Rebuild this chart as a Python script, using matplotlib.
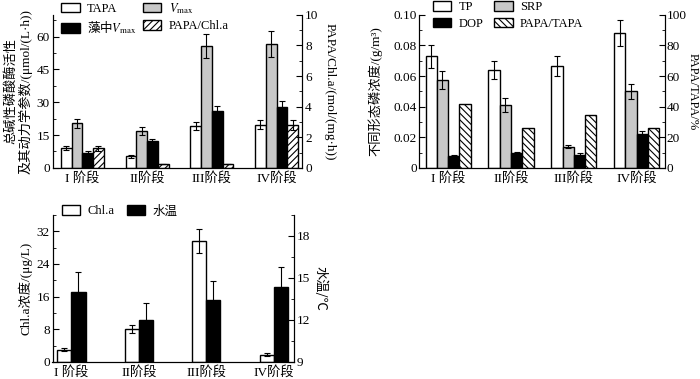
import numpy as np
import matplotlib
matplotlib.use("Agg")
import matplotlib.pyplot as plt
from matplotlib.ticker import MultipleLocator, AutoMinorLocator

plt.rcParams['font.family'] = ['Liberation Serif', 'Noto Sans CJK SC']
plt.rcParams['mathtext.fontset'] = 'stix'
plt.rcParams['font.size'] = 9
plt.rcParams['hatch.linewidth'] = 0.8

stages = ["I 阶段", "II阶段", "III阶段", "IV阶段"]

# panel 1: alkaline phosphatase activity
tapa = [9.2, 5.3, 19.1, 19.7]
tapa_err = [1.0, 0.6, 2.0, 2.0]
vmax = [20.3, 17.0, 55.7, 56.5]
vmax_err = [2.0, 1.8, 5.5, 6.0]
alg_vmax = [6.9, 12.4, 26.0, 27.8]
alg_vmax_err = [0.7, 1.0, 2.5, 2.7]
papa_chla = [1.27, 0.24, 0.28, 2.8]
papa_chla_err = [0.17, 0.0, 0.0, 0.3]

# panel 2: phosphorus forms
tp = [0.073, 0.064, 0.0665, 0.088]
tp_err = [0.0075, 0.006, 0.0065, 0.0085]
srp = [0.0575, 0.041, 0.0137, 0.050]
srp_err = [0.006, 0.0045, 0.001, 0.005]
dop = [0.008, 0.0095, 0.0085, 0.022]
dop_err = [0.0005, 0.001, 0.001, 0.002]
papa_tapa = [42, 26, 34.5, 26]

# panel 3: chlorophyll a and water temperature
chla = [3.0, 8.0, 29.6, 1.8]
chla_err = [0.4, 1.0, 3.0, 0.3]
temp = [14.0, 12.0, 13.45, 14.35]
temp_err = [1.4, 1.2, 1.35, 1.4]

GREY = "#c8c8c8"
ekw = dict(ecolor="black", elinewidth=0.8, capsize=2, capthick=0.8)
bkw = dict(edgecolor="black", linewidth=1.0)
cjk = ['Noto Sans CJK SC', 'Liberation Serif']
lkw = dict(frameon=False, loc="upper left", handlelength=1.45, handleheight=0.8,
           borderaxespad=0, borderpad=0, handletextpad=0.6, labelspacing=0.36, fontsize=9)


def style(ax, ax2, pad=2):
    for a in (ax, ax2):
        a.spines['top'].set_visible(False)
        a.tick_params(axis='y', direction='in', length=4, which='major', labelsize=9.5, pad=pad)
        a.tick_params(axis='y', direction='in', length=2, which='minor')
        a.yaxis.set_minor_locator(AutoMinorLocator(2))
    ax.tick_params(axis='x', length=0, labelsize=9.5, pad=3)


fig = plt.figure(figsize=(7.0, 3.79), dpi=100)
x = np.arange(4)

# ---- panel 1
ax = fig.add_axes([0.075, 0.557, 0.357, 0.404])
ax2 = ax.twinx()
w = 0.166
b1 = ax.bar(x - 1.5 * w, tapa, w, color="white", yerr=tapa_err, error_kw=ekw, **bkw)
b2 = ax.bar(x - 0.5 * w, vmax, w, color=GREY, yerr=vmax_err, error_kw=ekw, **bkw)
b3 = ax.bar(x + 0.5 * w, alg_vmax, w, color="black", yerr=alg_vmax_err, error_kw=ekw, **bkw)
b4 = ax2.bar(x + 1.5 * w, papa_chla, w, color="white", hatch="/////", yerr=papa_chla_err,
             error_kw=ekw, **bkw)
ax.set_xlim(-0.46, 3.40)
ax.set_ylim(0, 70)
ax.yaxis.set_major_locator(MultipleLocator(15))
ax2.set_ylim(0, 10)
ax2.yaxis.set_major_locator(MultipleLocator(2))
ax.set_xticks(x)
ax.set_xticklabels(stages)
style(ax, ax2)
ax.set_ylabel("总碱性磷酸酶活性\n及其动力学参数/(μmol/(L·h))", fontsize=9.5, labelpad=3,
              linespacing=1.1)
ax2.set_ylabel("PAPA/Chl.a/(mol/(mg·h))", rotation=270, fontsize=9.5, labelpad=12)
leg = ax.legend([b1, b3, b2, b4],
                ["TAPA", "藻中$V_{\\rm max}$", "$V_{\\rm max}$", "PAPA/Chl.a"],
                ncol=2, bbox_to_anchor=(0.036, 1.09), columnspacing=0.5, **lkw)
leg.get_texts()[1].set_fontfamily(cjk)

# ---- panel 2
ax = fig.add_axes([0.598, 0.557, 0.352, 0.404])
ax2 = ax.twinx()
w = 0.18
b1 = ax.bar(x - 1.5 * w, tp, w, color="white", yerr=tp_err, error_kw=ekw, **bkw)
b2 = ax.bar(x - 0.5 * w, srp, w, color=GREY, yerr=srp_err, error_kw=ekw, **bkw)
b3 = ax.bar(x + 0.5 * w, dop, w, color="black", yerr=dop_err, error_kw=ekw, **bkw)
b4 = ax2.bar(x + 1.5 * w, papa_tapa, w, color="white", hatch="\\\\\\\\\\", **bkw)
ax.set_xlim(-0.47, 3.45)
ax.set_ylim(0, 0.10)
ax.set_yticks([0, 0.02, 0.04, 0.06, 0.08, 0.10])
ax.set_yticklabels(["0", "0.02", "0.04", "0.06", "0.08", "0.10"])
ax2.set_ylim(0, 100)
ax2.yaxis.set_major_locator(MultipleLocator(20))
ax.set_xticks(x)
ax.set_xticklabels(stages)
style(ax, ax2, pad=1)
ax.set_ylabel("不同形态磷浓度/(g/m³)", fontsize=9.5, labelpad=8)
ax2.set_ylabel("PAPA/TAPA/%", rotation=270, fontsize=9, labelpad=9)
ax.legend([b1, b3, b2, b4], ["TP", "DOP", "SRP", "PAPA/TAPA"],
          ncol=2, bbox_to_anchor=(0.057, 1.09), columnspacing=0.9, **lkw)

# ---- panel 3
ax = fig.add_axes([0.075, 0.045, 0.345, 0.388])
ax2 = ax.twinx()
w = 0.21
b1 = ax.bar(x - 0.5 * w, chla, w, color="white", yerr=chla_err, error_kw=ekw, **bkw)
b2 = ax2.bar(x + 0.5 * w, np.array(temp) - 9, w, bottom=9, color="black", yerr=temp_err,
             error_kw=ekw, **bkw)
ax.set_xlim(-0.28, 3.30)
ax.set_ylim(0, 36)
ax.yaxis.set_major_locator(MultipleLocator(8))
ax2.set_ylim(9, 19.5)
ax2.yaxis.set_major_locator(MultipleLocator(3))
ax.set_xticks(x)
ax.set_xticklabels(stages)
style(ax, ax2)
ax.set_ylabel("Chl.a浓度/(μg/L)", fontsize=9.5, labelpad=3)
ax2.set_ylabel("水温/℃", rotation=270, fontsize=9.5, labelpad=12, family=cjk)
ax.legend([b1, b2], ["Chl.a", "水温"], ncol=2, bbox_to_anchor=(0.038, 1.065),
          columnspacing=1.0, **lkw)

fig.savefig("out.png", dpi=100)
